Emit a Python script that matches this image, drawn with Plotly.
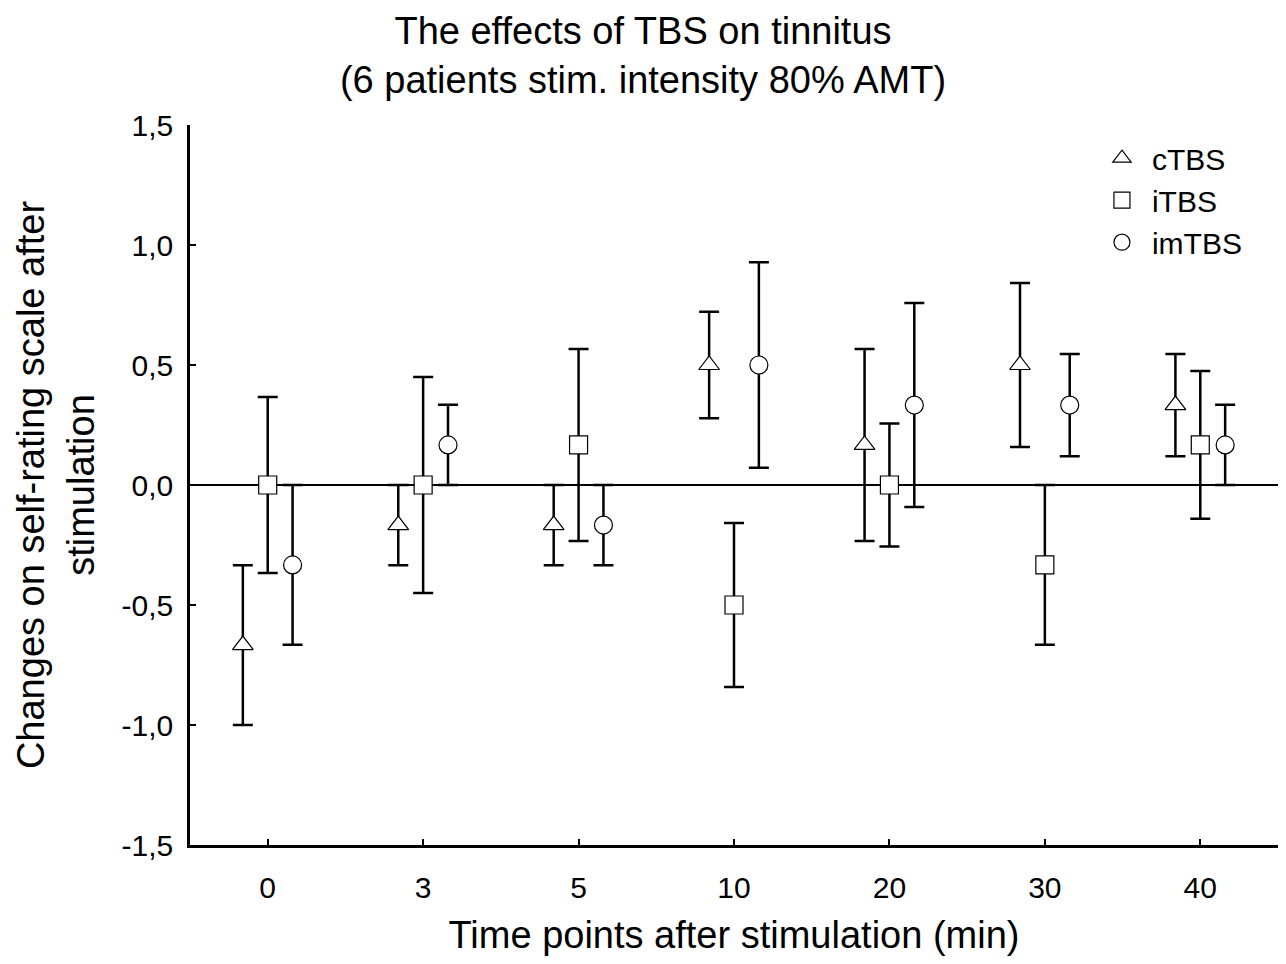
import plotly.graph_objects as go

categories = ["0", "3", "5", "10", "20", "30", "40"]
y_ticks = [-1.5, -1.0, -0.5, 0.0, 0.5, 1.0, 1.5]
y_ticklabels = ["-1,5", "-1,0", "-0,5", "0,0", "0,5", "1,0", "1,5"]

ctbs_mean = [-0.667, -0.167, -0.167, 0.5, 0.167, 0.5, 0.333]
ctbs_err = [0.333, 0.167, 0.167, 0.222, 0.4, 0.342, 0.213]
itbs_mean = [0.0, 0.0, 0.167, -0.5, 0.0, -0.333, 0.167]
itbs_err = [0.367, 0.45, 0.4, 0.342, 0.256, 0.333, 0.308]
imtbs_mean = [-0.333, 0.167, -0.167, 0.5, 0.333, 0.333, 0.167]
imtbs_err = [0.333, 0.167, 0.167, 0.428, 0.425, 0.213, 0.167]

series = [
    ("cTBS", ctbs_mean, ctbs_err, "triangle-up", -0.16),
    ("iTBS", itbs_mean, itbs_err, "square", 0.0),
    ("imTBS", imtbs_mean, imtbs_err, "circle", 0.16),
]

FONT = "Liberation Sans, Arial, sans-serif"
fig = go.Figure()
for name, mean, err, sym, off in series:
    xs = [i + off for i in range(len(categories))]
    fig.add_trace(go.Scatter(
        x=xs, y=mean, mode="markers", name=name, legendgroup=name,
        marker=dict(symbol=sym, size=18, color="white",
                    line=dict(color="black", width=1.2)),
        error_y=dict(type="data", array=err, visible=True,
                     color="black", thickness=2.5, width=10),
    ))

fig.update_layout(
    width=1270, height=948,
    paper_bgcolor="white", plot_bgcolor="white",
    margin=dict(l=182, r=0, t=117, b=111),
    font=dict(family=FONT, color="black", size=30),
    title=dict(text="The effects of TBS on tinnitus<br>(6 patients stim. intensity 80% AMT)",
               x=0.5, xanchor="center", xref="container",
               y=0.962, yanchor="top", yref="container",
               font=dict(family=FONT, size=38, color="black")),
    showlegend=True,
    legend=dict(x=0.829, xanchor="left", y=0.99, yanchor="top",
                font=dict(family=FONT, size=30, color="black"),
                itemwidth=50,
                bgcolor="rgba(0,0,0,0)", tracegroupgap=0),
    xaxis=dict(
        range=[-0.5, 6.5], tickvals=list(range(len(categories))), ticktext=categories,
        showline=True, linecolor="black", linewidth=2.5, mirror=False,
        ticks="inside", ticklen=6, tickwidth=2, tickcolor="black",
        showgrid=False, zeroline=False, ticklabelstandoff=14, automargin=False,
        tickfont=dict(family=FONT, size=30, color="black"),
        title=dict(text="Time points after stimulation (min)", standoff=31,
                   font=dict(family=FONT, size=38, color="black")),
    ),
    yaxis=dict(
        range=[-1.5, 1.5], tickvals=y_ticks, ticktext=y_ticklabels,
        showline=True, linecolor="black", linewidth=2.5, mirror=False,
        ticks="inside", ticklen=6, tickwidth=2, tickcolor="black",
        showgrid=False, zeroline=True, zerolinecolor="black", zerolinewidth=2,
        ticklabelstandoff=8, automargin=False,
        tickfont=dict(family=FONT, size=30, color="black"),
        title=dict(text="Changes on self-rating scale after<br>stimulation", standoff=16,
                   font=dict(family=FONT, size=38, color="black")),
    ),
)

fig.write_html("out.html")
